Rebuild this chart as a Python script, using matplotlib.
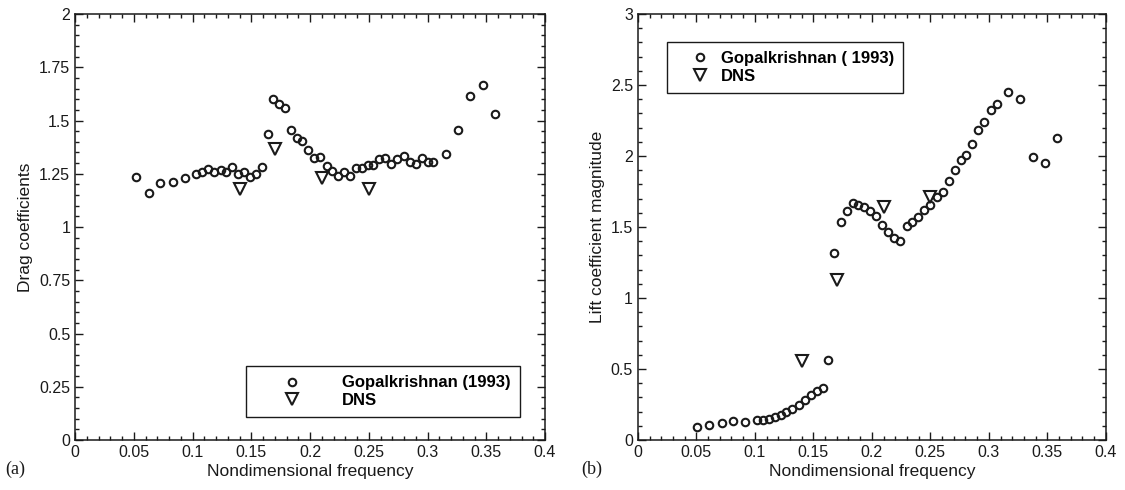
'''
Drag and lift coefficients vs nondimensional frequency: experiment vs DNS.
'''

import numpy as np
import matplotlib
matplotlib.use('Agg')
import matplotlib.pyplot as plt
from matplotlib.ticker import MultipleLocator, FormatStrFormatter

plt.rcParams['font.family'] = ['Liberation Sans', 'DejaVu Sans']

# (a) drag, Gopalkrishnan (1993)
drag_f = [0.052, 0.0626, 0.0725, 0.083, 0.0933, 0.103, 0.108, 0.113, 0.118, 0.124,
          0.1285, 0.1337, 0.1385, 0.1436, 0.1488, 0.1536, 0.1587, 0.164, 0.1687, 0.174,
          0.179, 0.184, 0.189, 0.1934, 0.1985, 0.2034, 0.2085, 0.214, 0.219, 0.2238,
          0.229, 0.2338, 0.239, 0.244, 0.249, 0.2537, 0.2588, 0.264, 0.2693, 0.2744,
          0.2796, 0.2847, 0.290, 0.2952, 0.300, 0.305, 0.3157, 0.326, 0.336, 0.347, 0.3575]
drag_cd = [1.233, 1.158, 1.205, 1.213, 1.229, 1.249, 1.26, 1.271, 1.26, 1.268,
           1.26, 1.283, 1.249, 1.26, 1.233, 1.249, 1.283, 1.437, 1.601, 1.576,
           1.557, 1.455, 1.419, 1.404, 1.362, 1.325, 1.33, 1.286, 1.264, 1.239,
           1.26, 1.239, 1.275, 1.275, 1.291, 1.291, 1.319, 1.322, 1.294, 1.319,
           1.335, 1.306, 1.294, 1.325, 1.304, 1.307, 1.344, 1.455, 1.616, 1.668, 1.532]
drag_dns_f = [0.14, 0.17, 0.21, 0.25]
drag_dns_cd = [1.18, 1.365, 1.228, 1.18]

# (b) lift magnitude, Gopalkrishnan (1993)
lift_f = [0.0507, 0.061, 0.0715, 0.0815, 0.0915, 0.1015, 0.1066, 0.112, 0.117, 0.122,
          0.127, 0.132, 0.1376, 0.1427, 0.148, 0.1527, 0.158, 0.1627, 0.1678, 0.1735,
          0.1784, 0.1835, 0.1883, 0.1934, 0.1983, 0.2034, 0.2088, 0.214, 0.219, 0.224,
          0.2297, 0.2345, 0.2396, 0.2447, 0.250, 0.2553, 0.2604, 0.2658, 0.271, 0.2758,
          0.2808, 0.2857, 0.2909, 0.296, 0.3014, 0.3066, 0.3165, 0.3268, 0.3373, 0.3476, 0.3579]
lift_cl = [0.094, 0.106, 0.117, 0.136, 0.129, 0.141, 0.141, 0.146, 0.164, 0.176,
           0.199, 0.216, 0.246, 0.282, 0.317, 0.345, 0.364, 0.563, 1.315, 1.533,
           1.613, 1.671, 1.655, 1.643, 1.613, 1.58, 1.514, 1.467, 1.425, 1.404,
           1.509, 1.537, 1.573, 1.62, 1.655, 1.713, 1.744, 1.824, 1.90, 1.972,
           2.007, 2.085, 2.183, 2.242, 2.324, 2.364, 2.448, 2.399, 1.995, 1.953, 2.129]
lift_dns_f = [0.14, 0.17, 0.21, 0.25]
lift_dns_cl = [0.558, 1.13, 1.64, 1.713]

fig = plt.figure(figsize=(11.25, 4.9), dpi=100)
ax1 = fig.add_axes([0.0667, 0.102, 0.4178, 0.8694])
ax2 = fig.add_axes([0.567, 0.102, 0.416, 0.8694])

circ = dict(marker='o', ls='none', ms=5.4, mfc='none', mec='#1a1a1a', mew=1.5)
tri = dict(marker='v', ls='none', ms=8.5, mfc='none', mec='#1a1a1a', mew=1.5)

def style(ax, ymax, ymajor, yminor, ylabel):
    ax.set_xlim(0, 0.4)
    ax.set_ylim(0, ymax)
    ax.xaxis.set_major_locator(MultipleLocator(0.05))
    ax.xaxis.set_minor_locator(MultipleLocator(0.01))
    ax.yaxis.set_major_locator(MultipleLocator(ymajor))
    ax.yaxis.set_minor_locator(MultipleLocator(yminor))
    ax.xaxis.set_major_formatter(FormatStrFormatter('%g'))
    ax.yaxis.set_major_formatter(FormatStrFormatter('%g'))
    ax.tick_params(which='both', direction='in', top=True, right=True,
                   labelsize=11.5, colors='#1a1a1a', width=1.0)
    ax.tick_params(which='major', length=6)
    ax.tick_params(which='minor', length=3)
    for s in ax.spines.values():
        s.set_linewidth(1.1)
        s.set_color('#1a1a1a')
    ax.set_xlabel('Nondimensional frequency', fontsize=12.5, color='#1a1a1a', labelpad=3)
    ax.set_ylabel(ylabel, fontsize=12.5, color='#1a1a1a')

# (a)
ax1.plot(drag_f, drag_cd, label='Gopalkrishnan (1993)', **circ)
ax1.plot(drag_dns_f, drag_dns_cd, label='DNS', **tri)
style(ax1, 2, 0.25, 0.05, 'Drag coefficients')
leg = ax1.legend(loc='lower right', bbox_to_anchor=(0.947, 0.054), borderaxespad=0,
                 fancybox=False, edgecolor='#1a1a1a', framealpha=1,
                 prop={'weight': 'bold', 'size': 12}, borderpad=0.55,
                 handlelength=4.5, handletextpad=0.75, labelspacing=0.15)
leg.get_frame().set_linewidth(1.0)

# (b)
ax2.plot(lift_f, lift_cl, label='Gopalkrishnan ( 1993)', **circ)
ax2.plot(lift_dns_f, lift_dns_cl, label='DNS', **tri)
style(ax2, 3, 0.5, 0.1, 'Lift coefficient magnitude')
leg = ax2.legend(loc='upper left', bbox_to_anchor=(0.062, 0.934), borderaxespad=0,
                 fancybox=False, edgecolor='#1a1a1a', framealpha=1,
                 prop={'weight': 'bold', 'size': 12}, borderpad=0.55,
                 handlelength=2.9, handletextpad=-0.2, labelspacing=0.15)
leg.get_frame().set_linewidth(1.0)

fig.text(0.0044, 0.043, '(a)', fontsize=13, family=['Liberation Serif', 'DejaVu Serif'],
         va='center', ha='left', color='#1a1a1a')
fig.text(0.517, 0.043, '(b)', fontsize=13, family=['Liberation Serif', 'DejaVu Serif'],
         va='center', ha='left', color='#1a1a1a')

fig.savefig('out.png', dpi=100)
plt.close(fig)
